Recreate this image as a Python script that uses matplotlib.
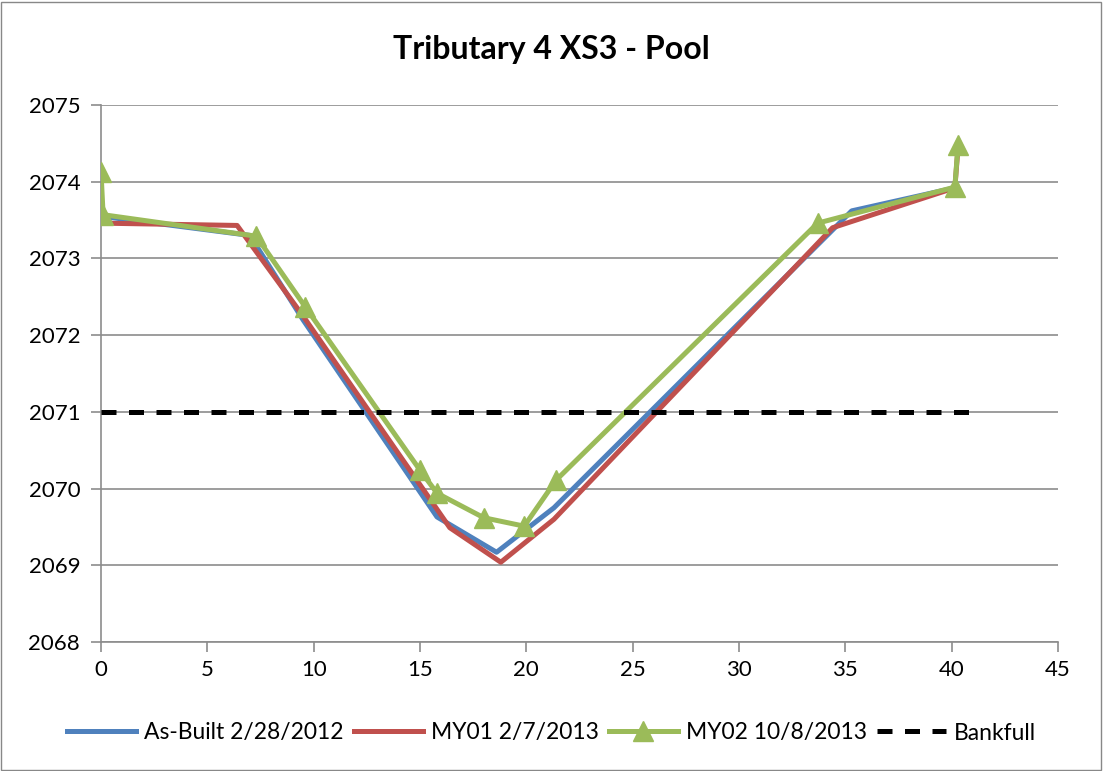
import matplotlib.pyplot as plt

# station / elevation survey data
asbuilt_x = [0, 7.0, 9.5, 15.8, 18.6, 21.3, 35.3, 40.15]
asbuilt_y = [2073.55, 2073.30, 2072.20, 2069.63, 2069.17, 2069.75, 2073.62, 2073.92]

my01_x = [0, 6.4, 9.5, 16.4, 18.8, 21.3, 34.4, 40.15, 40.3]
my01_y = [2073.46, 2073.43, 2072.25, 2069.49, 2069.04, 2069.60, 2073.40, 2073.92, 2074.45]

my02_x = [0, 0.1, 7.3, 9.6, 15.0, 15.8, 18.0, 19.9, 21.4, 33.7, 40.15, 40.3]
my02_y = [2074.13, 2073.57, 2073.29, 2072.37, 2070.24, 2069.94, 2069.62, 2069.51,
          2070.11, 2073.46, 2073.93, 2074.48]

bankfull_x = [0, 41]
bankfull_y = [2071, 2071]

plt.rcParams['font.family'] = ['Lato', 'DejaVu Sans']

fig = plt.figure(figsize=(11.03, 7.71), dpi=100)
ax = fig.add_axes([101 / 1103, 1 - 642 / 771, (1058 - 101) / 1103, (642 - 105) / 771])

# thin frame around the whole chart
fig.patches.append(plt.Rectangle((0.001, 0.001), 0.997, 0.997, transform=fig.transFigure,
                                 fill=False, edgecolor='#888888', linewidth=1))

ax.plot(asbuilt_x, asbuilt_y, color='#4F81BD', linewidth=3.6, label='As-Built 2/28/2012', zorder=3)
ax.plot(my01_x, my01_y, color='#C0504D', linewidth=3.6, label='MY01 2/7/2013', zorder=4)
ax.plot(my02_x, my02_y, color='#9BBB59', linewidth=3.6, marker='^', markersize=14,
        label='MY02 10/8/2013', zorder=5)
ax.plot(bankfull_x, bankfull_y, color='black', linewidth=3.6, linestyle=(0, (3, 2.5)),
        label='Bankfull', zorder=6)

ax.set_xlim(0, 45)
ax.set_ylim(2068, 2075)
ax.set_xticks(range(0, 46, 5))
ax.set_yticks(range(2068, 2076))
ax.yaxis.grid(True, color='#8c8c8c', linewidth=1.2)
ax.set_axisbelow(True)

for side in ['top', 'right']:
    ax.spines[side].set_visible(False)
for side in ['left', 'bottom']:
    ax.spines[side].set_color('#8c8c8c')
    ax.spines[side].set_linewidth(1.2)
ax.tick_params(axis='both', colors='#8c8c8c', labelcolor='black', labelsize=16,
               length=7, width=1.2)
ax.tick_params(axis='x', pad=6)
ax.tick_params(axis='y', pad=8)

fig.text(0.5, 1 - 50 / 771, 'Tributary 4 XS3 - Pool', ha='center', va='center',
         fontsize=23, fontweight='bold')

fig.legend(loc='center', bbox_to_anchor=(0.5, 1 - 733 / 771), ncol=4, frameon=False,
           fontsize=16.5, handlelength=3.0, columnspacing=0.45, handletextpad=0.35)

fig.savefig('out.png', dpi=100)
